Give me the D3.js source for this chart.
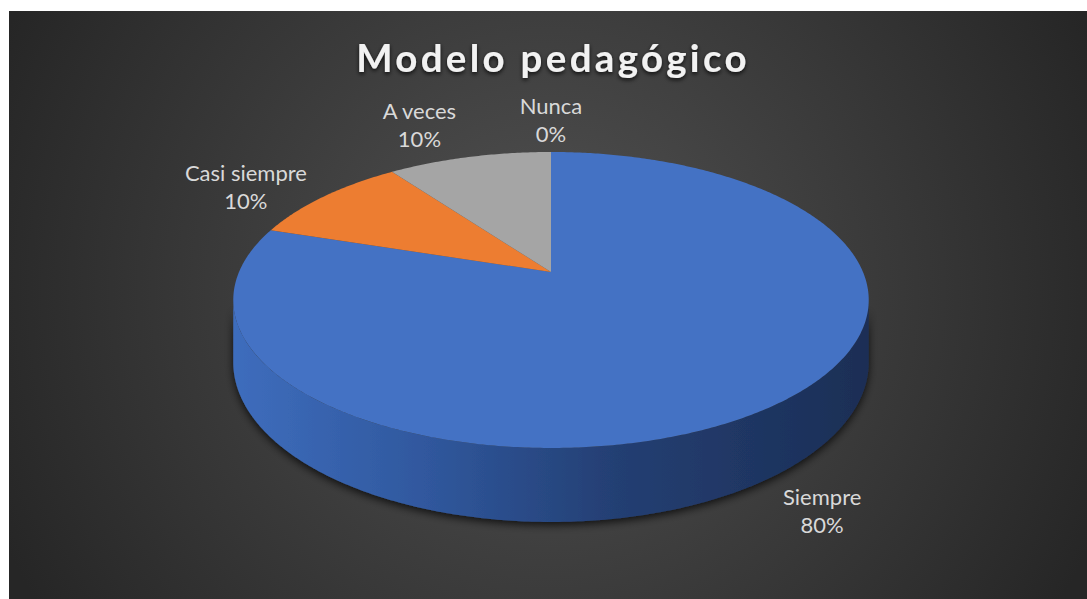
<!DOCTYPE html>
<html>
<head>
<meta charset="utf-8">
<script src="https://cdn.jsdelivr.net/npm/d3@7"></script>
<style>
    body { margin: 0; background: #ffffff; }
    svg { display: block; }
</style>
</head>
<body>
<div id="chart"></div>
<script>
const chartTitle = 'Modelo pedagógico';
const categories = ['Siempre', 'Casi siempre', 'A veces', 'Nunca'];
const percentages = [80, 10, 10, 0];
const sliceColors = ['#4472c4', '#ed7d31', '#a5a5a5', '#ffc000'];

const width = 1087;
const height = 599;

// perspective of the tilted disc
const view = {
    cx: 551,
    cy: 272,
    rx: 312,
    ry: 142.7,
    k: 0.189,
    depth: 60
};

function project(angle, r) {
    const u = Math.sin(angle) * r;
    const v = Math.cos(angle) * r;
    const w = 1 + view.k * v;
    return [view.cx + view.rx * u / w, view.cy - view.ry * v / w, w];
}

const svg = d3.select('#chart')
    .append('svg')
    .attr('width', width)
    .attr('height', height);

const defs = svg.append('defs');

const bg = defs.append('radialGradient')
    .attr('id', 'bg')
    .attr('gradientUnits', 'userSpaceOnUse')
    .attr('cx', 548).attr('cy', 290).attr('r', 600);
bg.append('stop').attr('offset', 0).attr('stop-color', '#525252');
bg.append('stop').attr('offset', 1).attr('stop-color', '#262626');

const side = defs.append('linearGradient')
    .attr('id', 'side')
    .attr('gradientUnits', 'userSpaceOnUse')
    .attr('x1', view.cx - 318).attr('x2', view.cx + 318)
    .attr('y1', 0).attr('y2', 0);
[[0, '#3e6dbd'], [0.3, '#30589e'], [0.6, '#243f73'], [1, '#1b2e55']].forEach(s => {
    side.append('stop').attr('offset', s[0]).attr('stop-color', s[1]);
});

const shadow = defs.append('filter').attr('id', 'shadow')
    .attr('x', '-20%').attr('y', '-20%').attr('width', '140%').attr('height', '140%');
shadow.append('feDropShadow')
    .attr('dx', 0).attr('dy', 3).attr('stdDeviation', 4)
    .attr('flood-color', '#000').attr('flood-opacity', 0.75);

const titleShadow = defs.append('filter').attr('id', 'tshadow')
    .attr('x', '-10%').attr('y', '-30%').attr('width', '120%').attr('height', '160%');
titleShadow.append('feDropShadow')
    .attr('dx', 0).attr('dy', 2).attr('stdDeviation', 2)
    .attr('flood-color', '#000').attr('flood-opacity', 0.8);

svg.append('rect')
    .attr('x', 9).attr('y', 11)
    .attr('width', width - 9).attr('height', height - 11)
    .attr('fill', 'url(#bg)');

const pie = d3.pie().value(d => d).sort(null);
const arcs = pie(percentages);

const line = d3.line();

// side wall of the visible front
const tA = Math.acos(-view.k);
const tB = 2 * Math.PI - tA;
const frontAngles = d3.range(tA, tB, 0.01).concat([tB]);
const sidePts = frontAngles.map(a => project(a, 1).slice(0, 2))
    .concat(frontAngles.slice().reverse().map(a => {
        const p = project(a, 1);
        return [p[0], p[1] + view.depth / p[2]];
    }));

svg.append('path')
    .attr('d', line(sidePts) + 'Z')
    .attr('fill', 'url(#side)')
    .attr('filter', 'url(#shadow)');

// top face slices
svg.append('g').selectAll('path')
    .data(arcs)
    .enter()
    .append('path')
    .attr('d', d => {
        if (d.endAngle - d.startAngle <= 0) return null;
        const steps = d3.range(d.startAngle, d.endAngle, 0.01).concat([d.endAngle]);
        const pts = [[view.cx, view.cy]].concat(steps.map(a => project(a, 1).slice(0, 2)));
        return line(pts) + 'Z';
    })
    .attr('fill', (d, i) => sliceColors[i]);

// title
svg.append('text')
    .attr('x', view.cx + 2)
    .attr('y', 72)
    .attr('text-anchor', 'middle')
    .attr('font-family', 'Lato, sans-serif')
    .attr('font-weight', 'bold')
    .attr('font-size', 38.5)
    .attr('letter-spacing', 3.3)
    .attr('fill', '#f2f2f2')
    .attr('filter', 'url(#tshadow)')
    .text(chartTitle);

// data labels, placed just outside each slice edge
const labels = svg.append('g')
    .attr('font-family', 'Lato, sans-serif')
    .attr('font-size', 22)
    .attr('fill', '#d9d9d9')
    .attr('text-anchor', 'middle');

arcs.forEach((d, i) => {
    const mid = (d.startAngle + d.endAngle) / 2;
    const u = Math.sin(mid);
    const v = Math.cos(mid);
    const p = project(mid, 1);
    let ex = p[0];
    let ey = p[1];
    if (v < -view.k) ey += view.depth / p[2];

    const g = labels.append('g');
    const t1 = g.append('text').text(categories[i]);
    const t2 = g.append('text').text(percentages[i] + '%');
    const hw = Math.max(t1.node().getComputedTextLength(), t2.node().getComputedTextLength()) / 2;
    const hh = 20;
    const gap = 12;

    const lx = ex + Math.tanh(u * 8) * (hw + gap + 6 * Math.abs(u));
    const fy = Math.max(0, Math.min(1, (Math.abs(v) - 0.5) / 0.3));
    const ly = ey - Math.sign(v) * (hh + gap) * fy;

    t1.attr('x', lx).attr('y', ly - 6);
    t2.attr('x', lx).attr('y', ly + 22);
});
</script>
</body>
</html>
